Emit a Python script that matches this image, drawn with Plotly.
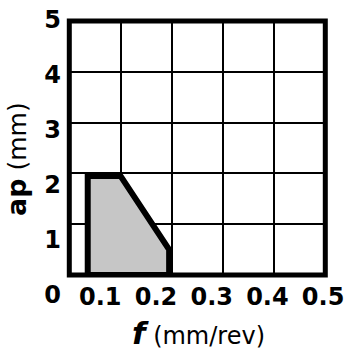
import plotly.graph_objects as go

# Data
region_f = [0.036, 0.036, 0.1, 0.195, 0.195, 0.036]   # feed f (mm/rev)
region_ap = [0.0, 1.95, 1.95, 0.5, 0.0, 0.0]          # depth ap (mm)
x_ticks = [0.1, 0.2, 0.3, 0.4, 0.5]
x_ticklabels = ["0.1", "0.2", "0.3", "0.4", "0.5"]
y_ticks = [0, 1, 2, 3, 4, 5]
y_ticklabels = ["0", "1", "2", "3", "4", "5"]

W = H = 350
FONT = "DejaVu Sans"

fig = go.Figure()
fig.add_trace(go.Scatter(
    x=region_f, y=region_ap, mode="lines", fill="toself",
    fillcolor="#c6c6c6", line=dict(color="black", width=6),
    hoverinfo="skip", showlegend=False, xaxis="x", yaxis="y",
))
# invisible trace to carry the label axes
fig.add_trace(go.Scatter(
    x=[0, 0.5], y=[0, 5], mode="markers", marker=dict(opacity=0),
    hoverinfo="skip", showlegend=False, xaxis="x2", yaxis="y2",
))

tickfont = dict(family=FONT, size=24, color="black", weight="bold")

fig.update_layout(
    width=W, height=H,
    margin=dict(l=0, r=0, t=0, b=0),
    paper_bgcolor="white", plot_bgcolor="rgba(0,0,0,0)",
    xaxis=dict(domain=[69.3 / W, 325.3 / W], range=[0, 0.5], dtick=0.1,
               showgrid=True, gridcolor="black", gridwidth=2,
               showticklabels=False, ticks="", zeroline=False, showline=False,
               anchor="y", fixedrange=True),
    yaxis=dict(domain=[1 - 275 / H, 1 - 21 / H], range=[0, 5], dtick=1,
               showgrid=True, gridcolor="black", gridwidth=2,
               showticklabels=False, ticks="", zeroline=False, showline=False,
               anchor="x", fixedrange=True),
    xaxis2=dict(domain=[44.6 / W, 323.1 / W], range=[0, 0.5],
                tickmode="array", tickvals=x_ticks, ticktext=x_ticklabels,
                tickfont=tickfont, showgrid=False, zeroline=False, showline=False,
                ticks="", anchor="free", position=1 - 280 / H, automargin=False,
                fixedrange=True),
    yaxis2=dict(domain=[1 - 294.4 / H, 1 - 19.4 / H], range=[0, 5],
                tickmode="array", tickvals=y_ticks, ticktext=y_ticklabels,
                tickfont=tickfont, showgrid=False, zeroline=False, showline=False,
                ticks="", anchor="free", position=61 / W, automargin=False,
                fixedrange=True),
    shapes=[dict(type="rect", xref="x domain", yref="y domain",
                 x0=0, x1=1, y0=0, y1=1, line=dict(color="black", width=5),
                 fillcolor="rgba(0,0,0,0)", layer="above")],
    annotations=[
        dict(text="<b><i><span style='font-size:31px'>f</span></i></b> (mm/rev)",
             xref="paper", yref="paper", x=198.5 / W, y=1 - 333 / H,
             xanchor="center", yanchor="middle", showarrow=False,
             font=dict(family=FONT, size=24, color="black")),
        dict(text="<b><span style='font-size:27px'>ap</span></b> (mm)",
             xref="paper", yref="paper", x=16 / W, y=1 - 159 / H,
             xanchor="center", yanchor="middle", showarrow=False, textangle=-90,
             font=dict(family=FONT, size=25, color="black")),
    ],
)

fig.write_html("out.html", config={"displayModeBar": False},
               post_script="document.body.style.margin='0';")
